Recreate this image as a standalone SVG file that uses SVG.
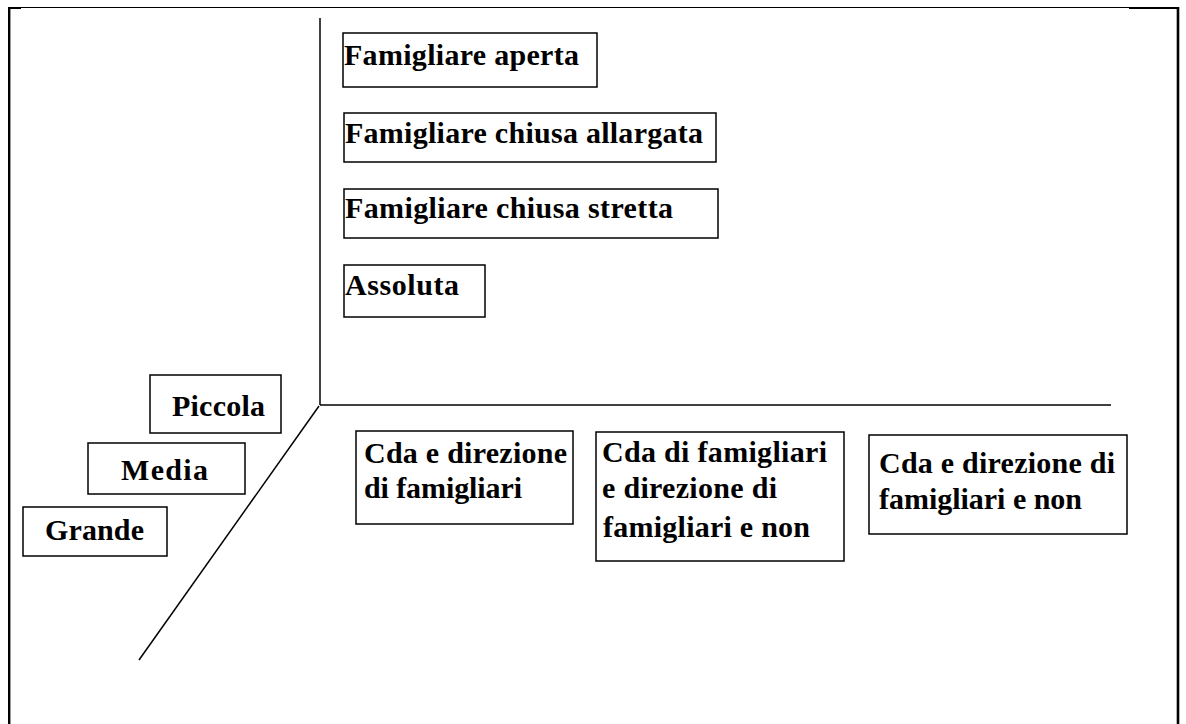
<svg xmlns="http://www.w3.org/2000/svg" width="1186" height="724" viewBox="0 0 1186 724">
  <style>
    .box { fill: #ffffff; stroke: #000000; stroke-width: 1.5; }
    .lbl { font-family: "Liberation Serif", "Times New Roman", serif; font-weight: bold; font-size: 30px; fill: #000000; }
    .axis { stroke: #000000; stroke-width: 1.5; fill: none; }
    .frame { stroke: #000000; fill: none; }
  </style>
  <rect x="0" y="0" width="1186" height="724" fill="#ffffff"/>

  <!-- page frame -->
  <g id="frame">
    <line class="frame" x1="8" y1="7.5" x2="1130" y2="7.5" stroke-width="1"/>
    <line class="frame" x1="8" y1="8" x2="21" y2="8" stroke-width="2"/>
    <line class="frame" x1="1129" y1="8" x2="1179" y2="8" stroke-width="2"/>
    <line class="frame" x1="9.2" y1="7" x2="9.2" y2="724" stroke-width="2.4"/>
    <line class="frame" x1="1178" y1="7" x2="1178" y2="724" stroke-width="2.6"/>
  </g>

  <!-- axes -->
  <g id="connectors">
    <line class="axis" x1="320" y1="18" x2="320" y2="405"/>
    <line class="axis" x1="320" y1="405" x2="1111" y2="405"/>
    <line class="axis" x1="319" y1="406" x2="139" y2="660" stroke-width="1.3"/>
  </g>

  <!-- vertical axis categories -->
  <g id="famigliare-aperta">
    <rect class="box" x="343" y="33" width="254" height="54"/>
    <text class="lbl" x="344" y="65" textLength="235" lengthAdjust="spacing">Famigliare aperta</text>
  </g>
  <g id="famigliare-chiusa-allargata">
    <rect class="box" x="344" y="113" width="372" height="49"/>
    <text class="lbl" x="345" y="143" textLength="358" lengthAdjust="spacing">Famigliare chiusa allargata</text>
  </g>
  <g id="famigliare-chiusa-stretta">
    <rect class="box" x="344" y="189" width="374" height="49"/>
    <text class="lbl" x="345" y="218" textLength="328" lengthAdjust="spacing">Famigliare chiusa stretta</text>
  </g>
  <g id="assoluta">
    <rect class="box" x="344" y="265" width="141" height="52"/>
    <text class="lbl" x="345" y="295" textLength="114" lengthAdjust="spacing">Assoluta</text>
  </g>

  <!-- diagonal axis categories -->
  <g id="piccola">
    <rect class="box" x="150" y="375" width="131" height="58"/>
    <text class="lbl" x="172" y="416" textLength="93" lengthAdjust="spacing">Piccola</text>
  </g>
  <g id="media">
    <rect class="box" x="88" y="443" width="157" height="51"/>
    <text class="lbl" x="121" y="480" textLength="87" lengthAdjust="spacing">Media</text>
  </g>
  <g id="grande">
    <rect class="box" x="23" y="507" width="144" height="49"/>
    <text class="lbl" x="45" y="540" textLength="99" lengthAdjust="spacing">Grande</text>
  </g>

  <!-- horizontal axis categories -->
  <g id="cda-direzione-famigliari">
    <rect class="box" x="356" y="431" width="217" height="93"/>
    <text class="lbl" x="364" y="463" textLength="203" lengthAdjust="spacing">Cda e direzione</text>
    <text class="lbl" x="364" y="498" textLength="158" lengthAdjust="spacing">di famigliari</text>
  </g>
  <g id="cda-famigliari-direzione-mista">
    <rect class="box" x="596" y="432" width="248" height="129"/>
    <text class="lbl" x="602" y="462" textLength="225" lengthAdjust="spacing">Cda di famigliari</text>
    <text class="lbl" x="602" y="498" textLength="175" lengthAdjust="spacing">e direzione di</text>
    <text class="lbl" x="603" y="537" textLength="207" lengthAdjust="spacing">famigliari e non</text>
  </g>
  <g id="cda-direzione-mista">
    <rect class="box" x="869" y="435" width="258" height="99"/>
    <text class="lbl" x="879" y="473" textLength="236" lengthAdjust="spacing">Cda e direzione di</text>
    <text class="lbl" x="879" y="509" textLength="203" lengthAdjust="spacing">famigliari e non</text>
  </g>
</svg>
